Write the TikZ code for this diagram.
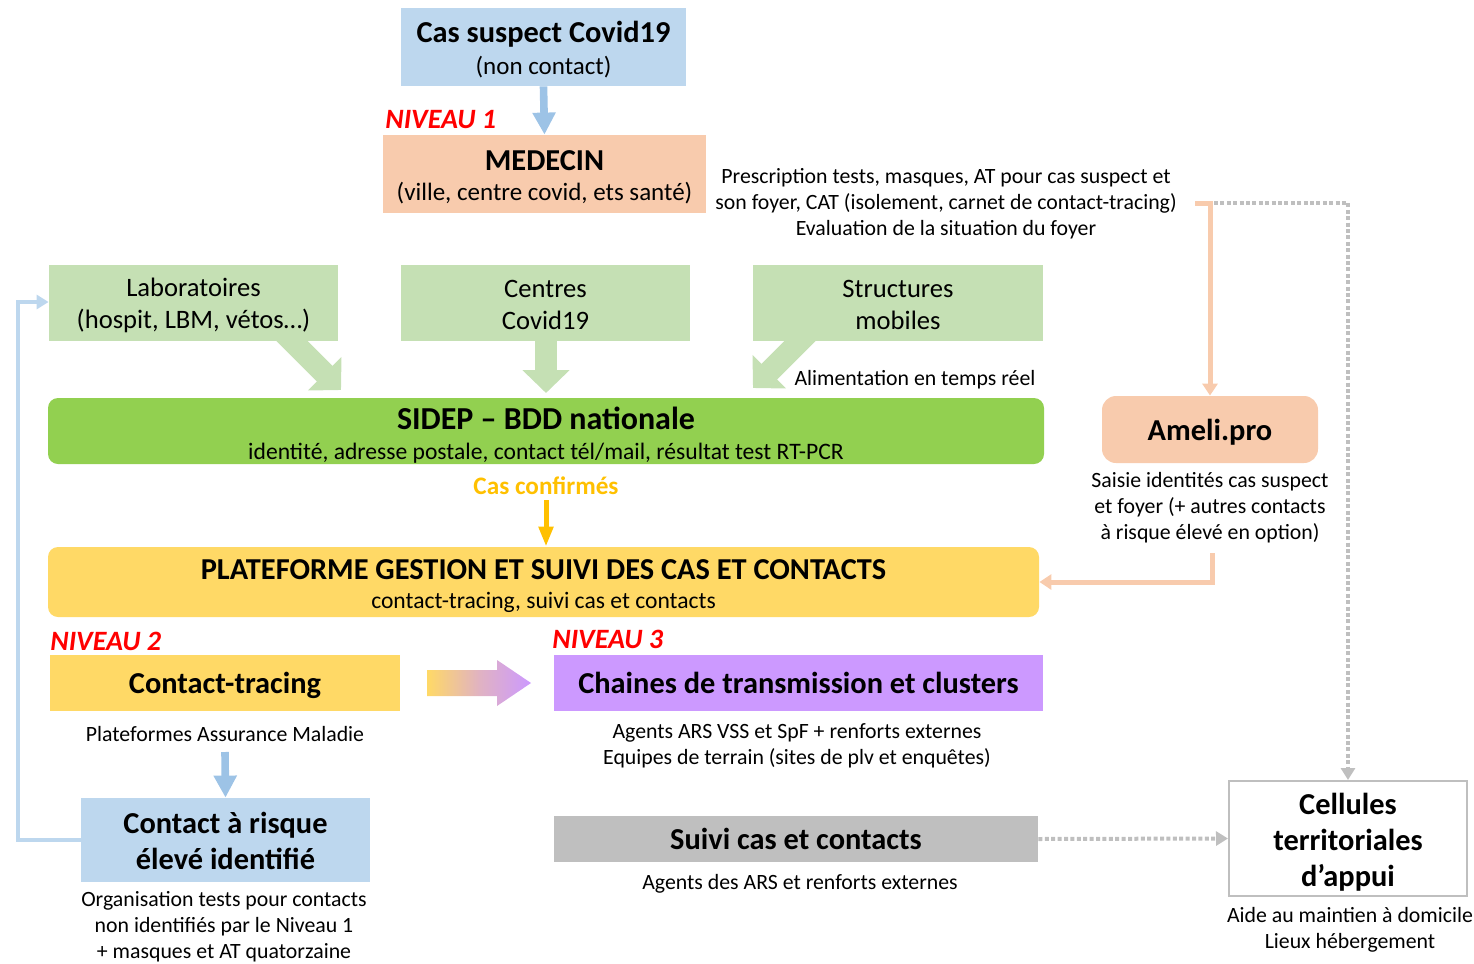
\documentclass[tikz,border=0pt]{standalone}
\usepackage{fontspec}
\setmainfont{Carlito}
\usetikzlibrary{arrows.meta}
\definecolor{bxblue}{HTML}{BDD7EE}
\definecolor{arblue}{HTML}{9DC3E6}
\definecolor{peach}{HTML}{F8CBAD}
\definecolor{lgreen}{HTML}{C5E0B4}
\definecolor{sgreen}{HTML}{92D050}
\definecolor{yell}{HTML}{FFD966}
\definecolor{orng}{HTML}{FFC000}
\definecolor{purp}{HTML}{CC99FF}
\definecolor{gry}{HTML}{BFBFBF}
\definecolor{redniv}{HTML}{FF0000}
\newcommand{\TitleF}{\fontsize{15.2}{16}\selectfont\bfseries}
\newcommand{\BigTitleF}{\fontsize{16}{16}\selectfont\bfseries}
\newcommand{\SubF}{\fontsize{12.5}{16}\selectfont}
\newcommand{\SubSmallF}{\fontsize{11.8}{16}\selectfont}
\newcommand{\PushDown}[2]{\raisebox{0pt}[\dimexpr\height+#1\relax]{#2}}
\tikzset{
  box/.style={inner sep=0pt, align=center, text=black, font=\fontsize{12}{16.5}\selectfont},
  body/.style={inner sep=0pt, align=center, text=black, font=\fontsize{10.9}{13}\selectfont},
  niveau/.style={inner sep=0pt, anchor=west, text=redniv, font=\fontsize{14}{16}\selectfont\bfseries\itshape},
  greenarrow/.style={draw=lgreen, line width=11pt, -{Triangle[width=23pt,length=11.5pt]}},
  bluearrow/.style={draw=arblue, line width=3.8pt, -{Triangle[width=11pt,length=11pt]}},
  orangearrow/.style={draw=orng, line width=2.5pt, -{Triangle[width=7pt,length=10pt]}},
  peachline/.style={draw=peach, line width=2.5pt, -{Triangle[width=7.5pt,length=6pt]}},
  blueline/.style={draw=bxblue, line width=2pt, -{Triangle[width=7pt,length=6pt]}},
  dotline/.style={draw=gry, line width=2pt, dash pattern=on 2pt off 1.2pt, -{Triangle[width=7pt,length=6pt]}},
}
\begin{document}
\begin{tikzpicture}[x=0.5pt,y=-0.5pt]
\useasboundingbox (0,0) rectangle (1474,964);

% block arrows from green boxes (drawn first, boxes cover their tails)
\coordinate (labtip) at (341,390);
\coordinate (labtail) at (266,315);
\coordinate (centip) at (546,393);
\coordinate (centail) at (546,320);
\coordinate (strtip) at (753,388);
\coordinate (strtail) at (828,313);
\draw[greenarrow] (labtail) -- (labtip);
\draw[greenarrow] (centail) -- (centip);
\draw[greenarrow] (strtail) -- (strtip);

% boxes
\node[box, fill=bxblue, minimum width=142.5pt, minimum height=39pt, font=\fontsize{12}{16}\selectfont] (cas) at (543.5,47)
  {\PushDown{2.5pt}{\TitleF Cas suspect Covid19}\\{\SubF (non contact)}};
\node[box, fill=peach, minimum width=161.5pt, minimum height=39pt, font=\fontsize{12}{15}\selectfont] (med) at (544.5,174)
  {\PushDown{3.5pt}{\TitleF MEDECIN}\\{\SubF (ville, centre covid, ets santé)}};
\node[box, fill=lgreen, minimum width=144.5pt, minimum height=38pt, font=\fontsize{13.3}{16}\selectfont] (lab) at (193.5,303)
  {\PushDown{2pt}{Laboratoires}\\(hospit, LBM, vétos…)};
\node[box, fill=lgreen, minimum width=144.5pt, minimum height=38pt, font=\fontsize{13.3}{16}\selectfont] (cen) at (545.5,303)
  {\PushDown{2pt}{Centres}\\Covid19};
\node[box, fill=lgreen, minimum width=145pt, minimum height=38pt, font=\fontsize{13.3}{16}\selectfont] (str) at (898,303)
  {\PushDown{2pt}{Structures}\\mobiles};
\node[box, fill=sgreen, rounded corners=5pt, minimum width=498pt, minimum height=33pt, font=\fontsize{12}{15}\selectfont] (sidep) at (546,431)
  {\PushDown{4.5pt}{\BigTitleF SIDEP – BDD nationale}\\{\SubSmallF identité, adresse postale, contact tél/mail, résultat test RT-PCR}};
\node[box, fill=yell, rounded corners=5pt, minimum width=495.5pt, minimum height=35pt, font=\fontsize{12}{14.5}\selectfont] (plat) at (543.5,582)
  {\PushDown{4pt}{\TitleF PLATEFORME GESTION ET SUIVI DES CAS ET CONTACTS}\\{\SubSmallF contact-tracing, suivi cas et contacts}};
\node[box, fill=peach, rounded corners=7pt, minimum width=108pt, minimum height=33.5pt, text depth=0pt] (ameli) at (1210,429.5)
  {\TitleF Ameli.pro};
\node[box, fill=yell, minimum width=175pt, minimum height=28pt, text depth=0pt] (ct) at (225,683)
  {\TitleF Contact-tracing};
\node[box, fill=purp, minimum width=244.5pt, minimum height=28pt] (ch) at (798.5,683)
  {\TitleF Chaines de transmission et clusters};
\node[box, fill=bxblue, minimum width=144.5pt, minimum height=42pt, font=\fontsize{15.2}{18}\selectfont\bfseries] (cr) at (225.5,840)
  {\PushDown{1pt}{Contact à risque}\\élevé identifié};
\node[box, fill=gry, minimum width=242pt, minimum height=23pt] (suivi) at (796,839)
  {\TitleF Suivi cas et contacts};
\node[box, draw=gry, line width=1pt, fill=white, minimum width=119pt, minimum height=57.5pt, font=\fontsize{15.2}{18}\selectfont\bfseries] (cell) at (1348,838.5)
  {\rule{0pt}{14pt}Cellules\\territoriales\\d’appui};

% free texts
\node[niveau] (niv1) at (385,120) {NIVEAU 1};
\node[niveau] (niv2) at (50,641) {NIVEAU 2};
\node[niveau] (niv3) at (552,639) {NIVEAU 3};
\node[body] (presc) at (946,204)
  {Prescription tests, masques, AT pour cas suspect et\\son foyer, CAT (isolement, carnet de contact-tracing)\\Evaluation de la situation du foyer};
\node[body] (alim) at (915,380) {Alimentation en temps réel};
\node[body, text=orng, font=\fontsize{12.6}{14}\selectfont\bfseries] (casconf) at (546,486) {Cas confirmés};
\node[body] (amelitxt) at (1210,508)
  {Saisie identités cas suspect\\et foyer (+ autres contacts\\à risque élevé en option)};
\node[body] (pam) at (225,734) {Plateformes Assurance Maladie};
\node[body] (chtxt) at (797,745.5)
  {Agents ARS VSS et SpF + renforts externes\\Equipes de terrain (sites de plv et enquêtes)};
\node[body] (crtxt) at (224,927)
  {Organisation tests pour contacts\\non identifiés par le Niveau 1\\+ masques et AT quatorzaine};
\node[body] (suivitxt) at (800,884) {Agents des ARS et renforts externes};
\node[body] (celltxt) at (1350,930) {Aide au maintien à domicile\\Lieux hébergement};

% connectors
\draw[bluearrow] (cas.south) -- (med.north);
\draw[orangearrow] (546,500) -- (plat.north -| casconf);
\draw[bluearrow] (225,752) -- (cr.north);

\coordinate (pstart) at (1195,203);
\coordinate (pcorner) at (1210,203);
\draw[peachline] (pstart) -- (pcorner) -- (ameli.north -| pcorner);

\coordinate (astart) at (1212,553);
\coordinate (acorner) at (1212,582);
\draw[peachline] (astart) -- (acorner) -- (plat.east |- acorner);

\coordinate (dstart) at (1214,203);
\coordinate (dcorner) at (1348,203);
\draw[dotline] (dstart) -- (dcorner) -- (cell.north -| dcorner);
\draw[dotline] (suivi.east) -- (cell.west);

\coordinate (lcorner1) at (18,840);
\coordinate (lcorner2) at (18,302);
\draw[blueline] (cr.west) -- (lcorner1) -- (lcorner2) -- (lab.west |- lcorner2);

% gradient arrow between Contact-tracing and Chaines
\path[left color=yell, right color=purp, middle color=purp!60!yell]
  (427,670) -- (497,670) -- (497,660) -- (531,683) -- (497,706) -- (497,696) -- (427,696) -- cycle;
\end{tikzpicture}
\end{document}
